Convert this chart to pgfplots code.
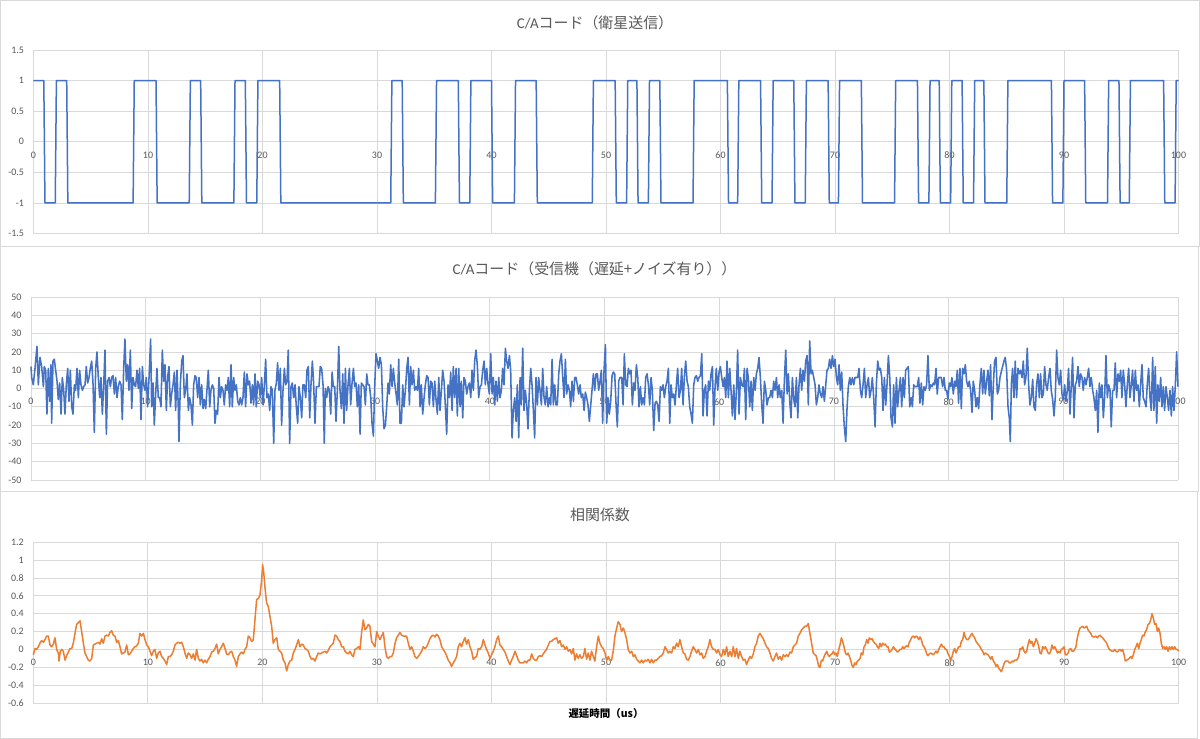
\documentclass[border=0pt]{standalone}
\usepackage{fontspec}
\setmainfont{Carlito}
\newfontfamily\jp{Noto Sans CJK JP}
\usepackage{pgfplots}
\pgfplotsset{compat=1.18}
\definecolor{gridc}{HTML}{D9D9D9}
\definecolor{txt}{HTML}{595959}
\definecolor{blu}{HTML}{4472C4}
\definecolor{ora}{HTML}{ED7D31}
\pgfplotsset{
  exc/.style={
    scale only axis,
    xmin=0, xmax=100,
    xtick={0,10,20,30,40,50,60,70,80,90,100},
    axis x line=middle,
    axis y line=left,
    axis line style={draw=none},
    hide obscured x ticks=false,
    major tick length=0pt,
    grid=major,
    major grid style={draw=gridc, line width=0.75bp},
    tick label style={font=\fontsize{10}{12}\selectfont, text=txt},
    xticklabel style={anchor=north, yshift=-6.5bp},
    yticklabel style={anchor=east, xshift=-6bp},
    /pgf/number format/assume math mode=true,
    clip=false,
  }
}
\begin{document}
\begin{tikzpicture}
\useasboundingbox (0,0) rectangle (1200bp,739bp);
\fill[white] (0,0) rectangle (1200bp,739bp);
\draw[gridc, line width=1bp] (0.5bp,738.5bp) rectangle (1199.5bp,492.5bp);
\draw[gridc, line width=1bp] (0.5bp,492.5bp) rectangle (1198.5bp,247.5bp);
\draw[gridc, line width=1bp] (0.5bp,247.5bp) rectangle (1197.5bp,0.5bp);

\node[text=txt, font=\fontsize{15}{18}\selectfont] at (595bp,716bp) {C/A{\jp コード（衛星送信）}};
\node[text=txt, font=\fontsize{15}{18}\selectfont] at (594.5bp,470bp) {C/A{\jp コード（受信機（遅延+ノイズ有り））}};
\node[text=txt, font=\fontsize{15}{18}\selectfont] at (600bp,224bp) {\jp 相関係数};
\node[text=black, font=\fontsize{10.5}{12}\selectfont] at (606bp,25bp) {\jp\bfseries 遅延時間（us）};

% Panel 1
\begin{axis}[exc, at={(33.5bp,505.5bp)}, anchor=south west, width=1145bp, height=183.5bp,
  ymin=-1.5, ymax=1.5, ytick={-1.5,-1,-0.5,0,0.5,1,1.5}]
\addplot[blu, line width=1.5bp, line join=round] coordinates {
(0,1) (0.9,1) (1.0,-1) (1.9,-1) (2.0,1) (2.9,1) (3.0,-1) (8.7,-1) (8.8,1) (10.7,1) (10.8,-1) (13.6,-1) (13.7,1) (14.6,1) (14.7,-1) (17.5,-1) (17.6,1) (18.5,1) (18.6,-1) (19.5,-1) (19.6,1) (21.5,1) (21.6,-1) (31.2,-1) (31.3,1) (32.2,1) (32.3,-1) (35.1,-1) (35.2,1) (37.1,1) (37.2,-1) (38.1,-1) (38.2,1) (40.0,1) (40.1,-1) (42.0,-1) (42.1,1) (43.9,1) (44.0,-1) (48.8,-1) (48.9,1) (50.8,1) (50.9,-1) (51.8,-1) (51.9,1) (52.7,1) (52.8,-1) (53.7,-1) (53.8,1) (54.7,1) (54.8,-1) (57.6,-1) (57.7,1) (60.6,1) (60.7,-1) (61.5,-1) (61.6,1) (63.5,1) (63.6,-1) (64.5,-1) (64.6,1) (66.4,1) (66.5,-1) (67.4,-1) (67.5,1) (69.4,1) (69.5,-1) (70.3,-1) (70.4,1) (72.3,1) (72.4,-1) (75.2,-1) (75.3,1) (77.2,1) (77.3,-1) (78.2,-1) (78.3,1) (79.1,1) (79.2,-1) (80.1,-1) (80.2,1) (81.1,1) (81.2,-1) (82.1,-1) (82.2,1) (83.0,1) (83.1,-1) (85.0,-1) (85.1,1) (88.9,1) (89.0,-1) (89.9,-1) (90.0,1) (91.8,1) (91.9,-1) (93.8,-1) (93.9,1) (94.8,1) (94.9,-1) (95.7,-1) (95.8,1) (98.7,1) (98.8,-1) (99.7,-1) (99.8,1) (100,1)
};
\end{axis}

% Panel 2
\begin{axis}[exc, at={(31bp,259bp)}, anchor=south west, width=1147bp, height=183bp,
  ymin=-50, ymax=50, ytick={-50,-40,-30,-20,-10,0,10,20,30,40,50}]
\addplot[blu, line width=1.55bp, line join=round] coordinates {
(0.00,12)(0.06,6)(0.20,2)(0.35,11)(0.52,23)(0.64,2)(0.78,17)(0.93,12)(1.08,1)(1.16,12)(1.28,10)(1.39,-14)(1.51,11)(1.63,-7)(1.74,13)(1.80,-19)(1.92,15)(2.03,16)(2.15,10)(2.27,4)(2.38,-6)(2.50,3)(2.62,-14)(2.73,6)(2.85,-1)(2.96,-14)(3.08,2)(3.20,11)(3.31,-7)(3.43,10)(3.55,-10)(3.66,-14)(3.78,2)(3.89,-1)(4.01,11)(4.13,-5)(4.24,10)(4.36,2)(4.48,-1)(4.59,1)(4.71,2)(4.82,12)(4.94,3)(5.06,6)(5.17,11)(5.29,15)(5.41,2)(5.52,-24)(5.64,11)(5.75,20)(5.87,6)(5.99,-5)(6.10,6)(6.22,-14)(6.34,2)(6.45,21)(6.57,-25)(6.68,4)(6.80,6)(6.92,1)(7.03,6)(7.15,7)(7.27,-3)(7.38,6)(7.50,-5)(7.61,1)(7.73,4)(7.85,2)(7.96,-17)(8.08,11)(8.19,27)(8.31,4)(8.43,13)(8.54,-1)(8.66,21)(8.78,-11)(8.89,6)(9.01,2)(9.12,1)(9.24,10)(9.36,0)(9.47,11)(9.59,-17)(9.71,12)(9.82,2)(9.94,-1)(10.05,6)(10.17,-10)(10.29,6)(10.43,27)(10.52,-10)(10.64,3)(10.75,-20)(10.87,-3)(10.98,11)(11.10,-5)(11.22,-5)(11.33,-10)(11.45,21)(11.57,4)(11.68,13)(11.80,-12)(11.91,6)(12.03,12)(12.15,-10)(12.26,-3)(12.38,2)(12.50,9)(12.61,-12)(12.73,10)(12.84,-10)(12.90,-29)(13.02,2)(13.14,15)(13.25,18)(13.37,-5)(13.48,-1)(13.60,8)(13.72,-12)(13.83,-5)(13.95,-9)(14.07,-20)(14.18,2)(14.30,7)(14.41,6)(14.53,-5)(14.65,6)(14.76,-9)(14.88,2)(15.00,-11)(15.11,-6)(15.23,-11)(15.34,-1)(15.46,10)(15.58,-10)(15.69,-1)(15.81,2)(15.93,0)(16.04,-19)(16.16,-12)(16.27,-14)(16.39,6)(16.51,-5)(16.62,1)(16.74,-1)(16.85,-9)(16.97,2)(17.09,-1)(17.20,6)(17.32,-10)(17.44,13)(17.55,-10)(17.67,6)(17.78,-1)(17.90,2)(18.02,-7)(18.13,-9)(18.25,-5)(18.37,-9)(18.48,-5)(18.60,9)(18.71,-10)(18.83,8)(18.95,2)(19.06,4)(19.18,-8)(19.30,2)(19.41,-9)(19.53,8)(19.64,-10)(19.76,4)(19.88,2)(19.99,-5)(20.11,6)(20.23,-9)(20.34,1)(20.46,16)(20.57,-5)(20.69,-3)(20.81,-12)(20.92,1)(21.04,-1)(21.16,-30)(21.27,-1)(21.39,3)(21.50,14)(21.62,-1)(21.74,11)(21.85,-20)(21.97,-1)(22.09,11)(22.20,2)(22.32,4)(22.43,21)(22.55,-30)(22.67,1)(22.78,3)(22.90,-5)(23.02,2)(23.13,-10)(23.25,-19)(23.36,1)(23.48,-5)(23.60,-16)(23.71,2)(23.83,2)(23.95,-5)(24.06,10)(24.18,12)(24.30,-16)(24.41,2)(24.53,15)(24.64,3)(24.76,-19)(24.88,1)(24.99,1)(25.11,1)(25.22,12)(25.34,11)(25.46,2)(25.57,-30)
(25.66,0)(25.78,-5)(25.90,1)(26.01,-1)(26.13,-14)(26.25,9)(26.36,1)(26.48,1)(26.59,-18)(26.71,-1)(26.83,23)(26.94,-1)(27.06,-11)(27.18,8)(27.29,-19)(27.41,11)(27.52,-12)(27.64,2)(27.76,11)(27.87,-9)(27.99,3)(28.11,11)(28.22,1)(28.34,3)(28.45,-10)(28.57,2)(28.69,-25)(28.80,3)(28.92,2)(29.04,1)(29.15,-9)(29.27,8)(29.38,2)(29.50,2)(29.62,-5)(29.73,-19)(29.85,-26)(29.97,2)(30.08,19)(30.20,15)(30.31,11)(30.43,17)(30.55,13)(30.66,-10)(30.78,-22)(30.90,-20)(31.01,-10)(31.13,3)(31.24,-3)(31.36,13)(31.48,1)(31.59,11)(31.71,3)(31.83,-3)(31.94,-9)(32.06,16)(32.17,-19)(32.29,-19)(32.41,2)(32.52,-10)(32.64,-1)(32.76,11)(32.87,17)(32.99,-9)(33.10,12)(33.22,2)(33.34,10)(33.45,-1)(33.57,1)(33.69,-1)(33.80,11)(33.92,-10)(34.03,2)(34.15,-14)(34.27,-5)(34.38,2)(34.50,7)(34.62,6)(34.73,-9)(34.85,4)(34.96,3)(35.08,-10)(35.20,4)(35.31,-6)(35.43,-14)(35.55,6)(35.66,-12)(35.78,-1)(35.89,10)(36.01,4)(36.13,-10)(36.24,-25)(36.36,2)(36.48,-5)(36.59,9)(36.71,-12)(36.82,12)(36.94,-5)(37.06,11)(37.17,-15)(37.29,11)(37.41,-10)(37.52,4)(37.64,-16)(37.75,6)(37.87,4)(37.99,-3)(38.10,1)(38.22,3)(38.34,-5)(38.45,10)(38.57,-1)(38.68,15)(38.80,21)(38.92,12)(39.03,-5)(39.15,1)(39.27,2)(39.38,10)(39.50,15)(39.61,2)(39.73,11)(39.85,2)(39.96,-3)(40.08,19)(40.20,-3)(40.31,6)(40.43,-9)(40.54,4)(40.66,-7)(40.78,6)(40.89,-5)(41.01,-1)(41.12,11)(41.24,2)(41.36,22)(41.47,15)(41.59,11)(41.71,18)(41.82,10)(41.94,-27)(42.05,-12)(42.17,-5)(42.29,-18)(42.40,2)(42.52,-27)(42.64,6)(42.75,-9)(42.87,22)(42.98,-12)(43.10,-1)(43.22,-9)(43.33,-22)(43.45,-1)(43.57,11)(43.68,2)(43.80,-12)(43.91,-27)(44.03,6)(44.15,-9)(44.26,6)(44.38,-1)(44.50,-9)(44.61,11)(44.73,-5)(44.84,-9)(44.96,1)(45.08,-10)(45.19,-5)(45.31,-9)(45.43,16)(45.54,-9)(45.66,2)(45.77,-9)(45.89,-9)(46.01,8)(46.12,15)(46.24,19)(46.36,6)(46.47,-5)(46.59,16)(46.70,-3)(46.82,2)(46.94,-1)(47.05,-10)(47.17,4)(47.29,-7)(47.40,6)(47.52,6)(47.63,2)(47.75,-3)(47.87,2)(47.98,-5)(48.10,-3)(48.22,-12)(48.33,-2)(48.45,-5)(48.56,-9)(48.68,-18)(48.80,-9)(48.91,-1)(49.03,8)(49.15,-1)(49.26,8)(49.38,8)(49.49,-1)(49.61,4)(49.73,10)(49.84,-19)(49.96,10)(50.08,24)(50.19,-19)(50.31,-5)(50.42,-14)(50.54,-7)(50.66,7)(50.77,9)(50.89,8)(51.01,-9)(51.12,-21)(51.24,4)(51.35,6)
(51.50,6)(51.62,-9)(51.73,19)(51.85,2)(51.97,1)(52.08,11)(52.20,8)(52.31,10)(52.43,-9)(52.55,3)(52.66,-1)(52.78,13)(52.90,6)(53.01,-10)(53.13,1)(53.24,-9)(53.36,-5)(53.48,-9)(53.59,6)(53.71,8)(53.83,2)(53.94,-9)(54.06,6)(54.17,-1)(54.29,-23)(54.41,-8)(54.52,-7)(54.64,-9)(54.76,-18)(54.87,1)(54.99,-1)(55.10,2)(55.22,-5)(55.34,1)(55.45,4)(55.57,11)(55.69,-19)(55.80,2)(55.92,-5)(56.03,-3)(56.15,-9)(56.27,2)(56.38,11)(56.50,-5)(56.62,-1)(56.73,11)(56.85,-9)(56.96,6)(57.08,15)(57.20,4)(57.31,1)(57.43,-10)(57.55,-14)(57.66,-19)(57.78,2)(57.89,6)(58.01,7)(58.13,4)(58.24,6)(58.36,7)(58.48,19)(58.59,-15)(58.71,-1)(58.82,2)(58.94,-15)(59.06,4)(59.17,-1)(59.29,8)(59.41,12)(59.52,-20)(59.64,1)(59.75,11)(59.87,-1)(59.99,9)(60.10,12)(60.22,6)(60.34,1)(60.45,6)(60.57,-5)(60.68,15)(60.80,-5)(60.92,11)(61.03,-1)(61.15,-15)(61.27,2)(61.38,-17)(61.50,-1)(61.61,21)(61.73,-14)(61.85,6)(61.96,2)(62.08,1)(62.20,11)(62.31,-17)(62.43,11)(62.54,6)(62.66,-10)(62.78,4)(62.89,-12)(63.01,6)(63.13,-1)(63.24,8)(63.36,11)(63.47,17)(63.59,6)(63.71,-9)(63.82,-19)(63.94,4)(64.06,-1)(64.17,-9)(64.29,-5)(64.40,-5)(64.52,-1)(64.64,-5)(64.75,4)(64.87,-1)(64.99,6)(65.10,-5)(65.22,2)(65.33,-5)(65.45,-1)(65.57,-19)(65.68,4)(65.80,21)(65.92,-3)(66.03,8)(66.15,-7)(66.26,-16)(66.38,6)(66.50,-6)(66.61,-10)(66.73,6)(66.85,-16)(66.96,2)(67.08,11)(67.19,-1)(67.31,10)(67.43,4)(67.54,15)(67.66,18)(67.77,-9)(67.89,26)(68.01,8)(68.12,10)(68.24,6)(68.36,2)(68.47,-9)(68.59,-5)(68.70,2)(68.82,-3)(68.94,-5)(69.05,1)(69.17,-7)(69.29,2)(69.40,10)(69.52,11)(69.63,16)(69.75,11)(69.87,18)(69.98,12)(70.10,16)(70.22,6)(70.33,2)(70.45,13)(70.56,-1)(70.68,9)(70.80,-10)(70.91,-21)(71.03,-29)(71.15,-10)(71.26,1)(71.38,6)(71.49,2)(71.61,6)(71.73,2)(71.84,6)(71.96,6)(72.08,6)(72.19,11)(72.31,-1)(72.42,-5)(72.54,2)(72.66,11)(72.77,-5)(72.89,2)(73.01,6)(73.12,-5)(73.24,-1)(73.35,6)(73.47,-5)(73.59,-21)(73.70,2)(73.82,15)(73.94,10)(74.05,11)(74.17,6)(74.28,-12)(74.40,6)(74.52,-9)(74.63,2)(74.75,18)(74.87,6)(74.98,-16)(75.10,-21)(75.21,2)(75.33,-19)(75.45,6)(75.56,-10)(75.68,-1)(75.80,6)(75.91,-10)(76.03,6)(76.14,-5)(76.26,10)(76.38,11)(76.49,12)(76.61,-10)(76.73,-5)(76.84,-10)(76.96,2)(77.07,1)
(77.27,1)(77.39,6)(77.50,-8)(77.62,3)(77.74,-9)(77.85,1)(77.97,-1)(78.08,2)(78.20,18)(78.32,-1)(78.43,2)(78.55,1)(78.67,3)(78.78,2)(78.90,11)(79.01,-3)(79.13,6)(79.25,6)(79.36,6)(79.48,1)(79.60,6)(79.71,-1)(79.83,-1)(79.94,-6)(80.06,3)(80.18,1)(80.29,6)(80.41,-3)(80.53,4)(80.64,1)(80.76,10)(80.87,-8)(80.99,11)(81.11,-11)(81.22,11)(81.34,8)(81.46,13)(81.57,4)(81.69,1)(81.80,4)(81.92,-1)(82.04,-13)(82.15,4)(82.27,-1)(82.39,-10)(82.50,-5)(82.62,-11)(82.73,2)(82.85,11)(82.97,-3)(83.08,10)(83.20,-3)(83.32,4)(83.43,10)(83.55,-4)(83.66,13)(83.78,-17)(83.90,2)(84.01,15)(84.13,17)(84.25,-3)(84.36,-1)(84.48,6)(84.59,9)(84.71,12)(84.83,15)(84.94,17)(85.06,10)(85.18,-10)(85.29,-16)(85.38,-29)(85.47,2)(85.58,11)(85.70,-5)(85.81,15)(85.93,-5)(86.05,11)(86.16,8)(86.28,10)(86.40,6)(86.51,15)(86.63,2)(86.74,6)(86.86,22)(86.98,2)(87.09,-9)(87.21,-5)(87.33,5)(87.44,-10)(87.56,-12)(87.67,2)(87.79,8)(87.91,-5)(88.02,8)(88.14,-5)(88.26,-3)(88.37,12)(88.49,2)(88.60,-1)(88.72,6)(88.84,11)(88.95,-1)(89.07,-6)(89.19,-15)(89.30,-5)(89.42,21)(89.53,6)(89.65,2)(89.77,10)(89.88,-3)(90.00,-6)(90.12,2)(90.23,-7)(90.35,-1)(90.46,11)(90.58,-14)(90.70,2)(90.81,17)(90.93,-16)(91.05,2)(91.16,4)(91.28,12)(91.39,1)(91.51,8)(91.63,6)(91.74,-1)(91.86,6)(91.98,2)(92.09,6)(92.21,11)(92.32,1)(92.44,6)(92.56,-1)(92.67,-5)(92.79,-12)(92.91,-1)(93.02,-24)(93.14,3)(93.25,-5)(93.37,2)(93.49,-16)(93.60,-5)(93.72,18)(93.84,-5)(93.95,2)(94.07,-1)(94.18,-21)(94.30,-1)(94.42,-1)(94.53,14)(94.65,-5)(94.77,8)(94.88,4)(95.00,10)(95.11,-5)(95.23,10)(95.35,2)(95.46,-10)(95.58,2)(95.70,11)(95.81,-5)(95.93,2)(96.04,10)(96.16,-7)(96.28,10)(96.39,-1)(96.51,2)(96.63,-10)(96.74,2)(96.86,13)(96.97,-5)(97.09,-7)(97.21,-10)(97.32,2)(97.44,11)(97.56,-5)(97.67,-12)(97.79,17)(97.90,-12)(98.02,12)(98.14,-19)(98.25,2)(98.37,-7)(98.49,6)(98.60,-10)(98.72,1)(98.83,-12)(98.95,1)(99.07,-5)(99.18,-12)(99.30,-1)(99.42,-15)(99.53,1)(99.65,-12)(99.77,2)(99.88,20)(100.00,1)
};
\end{axis}

% Panel 3
\begin{axis}[exc, at={(33.3bp,36bp)}, anchor=south west, width=1145.4bp, height=160.7bp,
  ymin=-0.6, ymax=1.2, ytick={-0.6,-0.4,-0.2,0,0.2,0.4,0.6,0.8,1,1.2}]
\addplot[ora, line width=1.5bp, line join=round] coordinates {
(0.00,-0.06)(0.15,0.01)(0.29,0.00)(0.44,0.03)(0.58,0.07)(0.73,0.10)(0.88,0.08)(1.02,0.11)(1.17,0.15)(1.31,0.15)(1.46,0.05)(1.60,0.03)(1.75,0.06)(1.89,0.13)(2.04,0.00)(2.19,-0.04)(2.24,-0.13)(2.36,-0.02)(2.48,0.00)(2.62,-0.02)(2.77,-0.12)(2.91,-0.07)(3.06,-0.03)(3.20,0.01)(3.35,0.01)(3.49,0.07)(3.64,0.18)(3.78,0.28)(3.93,0.30)(4.08,0.32)(4.22,0.20)(4.37,0.07)(4.51,-0.04)(4.66,-0.08)(4.80,-0.12)(4.95,-0.13)(5.10,-0.10)(5.24,0.05)(5.39,0.06)(5.53,0.07)(5.68,0.08)(5.82,0.06)(5.97,0.12)(6.11,0.07)(6.26,0.15)(6.40,0.16)(6.55,0.15)(6.70,0.19)(6.84,0.21)(6.99,0.16)(7.13,0.15)(7.28,0.08)(7.42,0.10)(7.57,0.03)(7.71,-0.05)(7.86,-0.04)(8.00,-0.03)(8.15,0.05)(8.30,-0.06)(8.44,-0.05)(8.59,-0.02)(8.73,0.01)(8.88,0.03)(9.02,0.04)(9.17,0.07)(9.31,0.18)(9.46,0.15)(9.61,0.18)(9.75,0.11)(9.90,0.05)(10.04,0.03)(10.19,-0.02)(10.33,-0.07)(10.48,-0.02)(10.62,0.00)(10.77,-0.10)(10.91,-0.04)(11.06,-0.02)(11.21,-0.08)(11.35,-0.10)(11.50,-0.13)(11.64,-0.17)(11.79,-0.08)(11.93,-0.08)(12.08,-0.06)(12.22,-0.02)(12.37,0.05)(12.52,0.07)(12.66,0.08)(12.81,0.07)(12.95,0.08)(13.10,0.03)(13.24,-0.04)(13.39,-0.10)(13.53,-0.04)(13.68,-0.06)(13.83,-0.10)(13.97,-0.05)(14.12,-0.12)(14.26,0.00)(14.41,-0.10)(14.55,-0.13)(14.70,-0.11)(14.84,-0.15)(14.99,-0.12)(15.13,-0.15)(15.28,-0.11)(15.43,-0.08)(15.57,-0.03)(15.72,-0.02)(15.86,0.01)(16.01,0.06)(16.15,-0.05)(16.30,0.00)(16.44,0.03)(16.59,0.07)(16.74,0.01)(16.88,-0.05)(17.03,-0.06)(17.17,-0.03)(17.32,-0.02)(17.46,-0.08)(17.61,-0.12)(17.75,-0.19)(17.90,-0.08)(18.04,-0.05)(18.19,-0.03)(18.34,-0.05)(18.48,0.00)(18.63,0.03)(18.77,0.15)(18.92,0.13)(19.06,0.09)(19.21,0.11)(19.35,0.33)(19.50,0.56)(19.65,0.57)(19.79,0.61)(19.94,0.78)(20.02,0.95)(20.11,0.87)(20.23,0.69)(20.37,0.52)(20.52,0.48)(20.66,0.37)(20.81,0.26)(20.95,0.07)(21.10,0.11)(21.25,0.13)(21.39,0.00)(21.54,-0.02)(21.68,-0.04)(21.83,-0.12)(21.97,-0.15)(22.12,-0.24)(22.26,-0.17)(22.41,-0.13)(22.56,-0.12)(22.70,-0.04)(22.85,0.00)(22.99,0.05)(23.14,0.11)(23.28,0.03)(23.43,0.06)(23.57,0.05)(23.72,0.01)(23.86,0.00)(24.01,-0.02)(24.16,-0.08)(24.30,-0.11)(24.45,-0.10)(24.59,-0.13)(24.74,-0.08)(24.88,-0.04)(25.03,-0.05)(25.17,-0.04)(25.32,-0.03)(25.47,-0.02)(25.61,-0.04)(25.76,-0.01)(25.90,0.03)(26.05,0.05)(26.19,0.07)(26.34,0.16)(26.48,0.15)(26.63,0.11)(26.77,0.09)(26.92,0.03)(27.07,0.03)(27.21,-0.02)(27.36,-0.04)(27.50,-0.05)(27.65,-0.02)(27.79,-0.06)(27.94,-0.08)(28.08,0.00)(28.23,0.01)(28.38,0.03)(28.52,0.00)(28.67,0.20)(28.81,0.33)(28.96,0.22)(29.10,0.24)(29.25,0.28)(29.39,0.26)(29.54,0.09)(29.68,0.06)(29.83,0.03)(29.98,0.20)(30.12,0.15)(30.27,0.11)(30.41,0.15)(30.56,0.19)(30.70,0.03)(30.85,-0.08)(30.99,-0.10)(31.14,-0.08)(31.29,-0.08)(31.43,-0.04)(31.58,0.07)(31.72,0.13)(31.87,0.16)(32.01,0.19)(32.16,0.16)(32.30,0.15)(32.45,0.15)(32.59,0.15)(32.74,0.07)(32.89,0.00)(33.03,0.03)(33.18,-0.02)(33.32,-0.08)(33.47,-0.10)(33.61,-0.08)(33.76,-0.05)(33.90,-0.02)(34.05,0.03)(34.20,0.01)
(34.34,0.03)(34.48,0.07)(34.63,0.12)(34.78,0.15)(34.92,0.16)(35.07,0.14)(35.21,0.17)(35.36,0.15)(35.50,0.11)(35.65,0.03)(35.79,0.00)(35.94,-0.03)(36.08,-0.07)(36.23,-0.12)(36.38,-0.15)(36.52,-0.19)(36.67,-0.15)(36.81,-0.12)(36.96,-0.08)(37.10,0.03)(37.25,0.07)(37.39,0.03)(37.54,0.09)(37.69,0.13)(37.83,0.06)(37.98,0.11)(38.12,0.03)(38.27,-0.02)(38.41,-0.11)(38.56,-0.09)(38.70,-0.08)(38.85,0.01)(38.99,0.00)(39.14,0.03)(39.29,0.11)(39.43,0.05)(39.58,0.00)(39.72,-0.04)(39.87,-0.10)(40.01,-0.06)(40.16,-0.02)(40.30,0.03)(40.45,0.11)(40.60,0.15)(40.74,0.05)(40.89,0.03)(41.03,0.00)(41.18,-0.03)(41.32,-0.08)(41.47,-0.13)(41.61,-0.17)(41.76,-0.12)(41.90,-0.08)(42.05,-0.02)(42.20,-0.07)(42.34,-0.12)(42.49,-0.15)(42.63,-0.15)(42.78,-0.15)(42.92,-0.13)(43.07,-0.15)(43.21,-0.12)(43.36,-0.12)(43.51,-0.05)(43.65,-0.10)(43.80,-0.12)(43.94,-0.12)(44.09,-0.08)(44.23,-0.07)(44.38,-0.08)(44.52,-0.05)(44.67,-0.02)(44.81,0.00)(44.96,0.05)(45.11,0.09)(45.25,0.09)(45.40,0.11)(45.54,0.12)(45.69,0.13)(45.83,0.07)(45.98,0.10)(46.12,0.03)(46.27,0.05)(46.42,0.00)(46.56,0.03)(46.71,-0.02)(46.85,0.00)(47.00,-0.05)(47.14,0.01)(47.29,-0.12)(47.43,-0.05)(47.58,-0.10)(47.72,-0.06)(47.87,-0.10)(48.02,-0.08)(48.16,0.01)(48.31,-0.11)(48.45,-0.04)(48.60,-0.12)(48.74,-0.02)(48.89,-0.08)(49.03,-0.13)(49.18,0.03)(49.33,0.15)(49.47,0.07)(49.62,0.03)(49.76,0.01)(49.91,-0.04)(50.05,-0.12)(50.20,-0.08)(50.34,-0.12)(50.49,-0.12)(50.63,-0.02)(50.78,0.15)(50.93,0.24)(51.07,0.31)(51.22,0.28)(51.36,0.20)(51.51,0.24)(51.65,0.19)(51.80,0.11)(51.94,0.00)(52.09,-0.04)(52.24,-0.02)(52.38,-0.08)(52.53,-0.06)(52.67,-0.11)(52.82,-0.13)(52.96,-0.15)(53.11,-0.12)(53.25,-0.15)(53.40,-0.12)(53.54,-0.13)(53.69,-0.11)(53.84,-0.15)(53.98,-0.11)(54.13,-0.15)(54.27,-0.12)(54.42,-0.12)(54.56,-0.10)(54.71,-0.08)(54.85,-0.07)(55.00,-0.04)(55.15,0.03)(55.29,0.00)(55.44,-0.04)(55.58,-0.02)(55.73,-0.04)(55.87,0.03)(56.02,0.01)(56.16,0.07)(56.31,0.03)(56.45,0.11)(56.60,0.03)(56.75,-0.04)(56.89,-0.05)(57.04,-0.11)(57.18,-0.12)(57.33,-0.08)(57.47,-0.02)(57.62,0.03)(57.76,0.00)(57.91,-0.04)(58.06,0.00)(58.20,-0.06)(58.35,-0.04)(58.49,-0.10)(58.64,-0.08)(58.78,-0.02)(58.93,0.03)(59.07,0.11)(59.22,0.03)(59.36,0.00)(59.51,0.00)(59.66,-0.04)(59.80,0.00)(59.95,-0.06)(60.09,-0.08)(60.24,0.00)(60.38,-0.06)(60.53,0.03)(60.67,-0.08)(60.82,-0.02)(60.97,-0.08)(61.11,0.03)(61.26,-0.08)(61.40,0.01)(61.55,-0.10)(61.69,-0.02)(61.84,-0.08)(61.98,-0.12)(62.13,-0.11)(62.27,-0.17)(62.42,-0.12)(62.57,-0.08)(62.71,-0.10)(62.86,-0.05)(63.00,0.03)(63.15,0.07)(63.29,0.15)(63.44,0.18)(63.58,0.15)(63.73,0.12)(63.88,0.07)(64.02,0.03)(64.17,0.01)(64.31,-0.04)(64.46,-0.10)(64.60,-0.13)(64.75,-0.08)(64.89,-0.04)(65.04,-0.11)(65.19,-0.08)(65.33,-0.12)(65.48,-0.06)(65.62,-0.08)(65.77,-0.06)(65.91,-0.08)(66.06,-0.03)(66.20,-0.04)(66.35,0.03)(66.49,0.05)(66.64,0.07)(66.79,0.15)(66.93,0.18)(67.08,0.22)(67.22,0.24)(67.37,0.26)(67.51,0.26)(67.66,0.29)(67.80,0.18)(67.95,0.07)(68.09,-0.04)(68.24,-0.06)
(68.34,-0.07)(68.45,-0.12)(68.57,-0.19)(68.69,-0.20)(68.80,-0.12)(68.92,-0.13)(69.04,-0.08)(69.15,-0.05)(69.27,-0.02)(69.38,-0.06)(69.50,-0.08)(69.62,-0.06)(69.73,-0.05)(69.85,-0.02)(69.97,-0.06)(70.08,-0.04)(70.20,-0.08)(70.32,0.00)(70.43,0.05)(70.55,0.13)(70.66,0.09)(70.78,0.03)(70.90,-0.04)(71.01,-0.06)(71.13,-0.04)(71.25,-0.08)(71.36,-0.12)(71.48,-0.18)(71.60,-0.20)(71.71,-0.15)(71.83,-0.17)(71.95,-0.13)(72.06,-0.12)(72.18,-0.10)(72.29,-0.04)(72.41,-0.06)(72.53,0.03)(72.64,0.05)(72.76,0.11)(72.88,0.07)(72.99,0.13)(73.11,0.11)(73.23,0.12)(73.34,0.09)(73.46,0.07)(73.57,0.06)(73.69,0.03)(73.81,0.01)(73.92,0.07)(74.04,0.03)(74.16,0.07)(74.27,0.05)(74.39,0.06)(74.51,0.03)(74.62,0.03)(74.74,-0.03)(74.86,-0.02)(74.97,0.00)(75.09,0.03)(75.20,0.01)(75.32,-0.01)(75.44,-0.03)(75.55,-0.02)(75.67,0.00)(75.79,0.00)(75.90,0.03)(76.02,0.01)(76.14,0.03)(76.25,0.04)(76.37,0.03)(76.48,0.08)(76.60,0.11)(76.72,0.14)(76.83,0.15)(76.95,0.13)(77.07,0.15)(77.18,0.14)(77.30,0.11)(77.42,0.14)(77.53,0.11)(77.65,0.05)(77.77,0.03)(77.88,0.00)(78.00,-0.05)(78.11,-0.07)(78.23,-0.05)(78.35,-0.04)(78.46,-0.05)(78.58,-0.06)(78.70,-0.04)(78.81,-0.02)(78.93,-0.04)(79.05,0.00)(79.16,0.03)(79.28,0.06)(79.39,0.03)(79.51,0.03)(79.63,0.00)(79.74,0.00)(79.86,-0.05)(79.98,-0.08)(80.09,-0.12)(80.21,-0.08)(80.33,-0.02)(80.44,0.01)(80.56,-0.04)(80.68,0.00)(80.79,0.03)(80.91,0.03)(81.02,0.09)(81.14,0.11)(81.26,0.19)(81.37,0.14)(81.49,0.11)(81.61,0.11)(81.72,0.13)(81.84,0.16)(81.96,0.18)(82.07,0.15)(82.19,0.13)(82.30,0.09)(82.42,0.07)(82.54,0.05)(82.65,0.03)(82.77,0.00)(82.89,-0.02)(83.00,-0.06)(83.12,-0.04)(83.24,-0.05)(83.35,-0.06)(83.47,-0.08)(83.59,-0.11)(83.70,-0.08)(83.82,-0.13)(83.93,-0.15)(84.05,-0.19)(84.17,-0.17)(84.28,-0.21)(84.40,-0.23)(84.52,-0.25)(84.63,-0.21)(84.75,-0.16)(84.87,-0.13)(84.98,-0.13)(85.10,-0.13)(85.21,-0.15)(85.33,-0.15)(85.45,-0.13)(85.56,-0.14)(85.68,-0.12)(85.80,-0.12)(85.91,-0.11)(86.03,-0.08)(86.15,0.01)(86.26,0.00)(86.38,0.03)(86.50,-0.02)(86.61,-0.04)(86.73,-0.02)(86.84,0.05)(86.96,0.11)(87.08,0.07)(87.19,0.09)(87.31,0.03)(87.43,0.07)(87.54,0.12)(87.66,0.09)(87.78,0.03)(87.89,-0.04)(88.01,-0.05)(88.12,0.03)(88.24,0.01)(88.36,0.03)(88.47,0.00)(88.59,-0.04)(88.71,-0.05)(88.82,-0.02)(88.94,0.05)(89.06,0.01)(89.17,0.03)(89.29,0.00)(89.41,-0.04)(89.52,-0.02)(89.64,-0.04)(89.75,0.00)(89.87,0.01)(89.99,0.03)(90.10,-0.06)(90.22,-0.06)(90.34,-0.04)(90.45,0.00)(90.57,0.01)(90.69,-0.02)(90.80,-0.02)(90.92,0.00)(91.03,0.03)(91.15,0.13)(91.27,0.20)(91.38,0.24)(91.50,0.25)(91.62,0.26)(91.73,0.24)(91.85,0.25)(91.97,0.26)(92.08,0.22)(92.20,0.20)(92.32,0.18)(92.43,0.15)(92.55,0.14)(92.66,0.14)(92.78,0.15)(92.90,0.13)(93.01,0.15)(93.13,0.16)(93.25,0.14)(93.36,0.13)(93.48,0.11)(93.60,0.09)(93.71,0.07)(93.83,0.03)(93.94,0.00)(94.06,-0.01)(94.18,-0.02)(94.29,-0.02)(94.41,0.00)(94.53,-0.02)(94.64,-0.03)(94.76,-0.01)(94.88,0.00)(94.99,-0.02)(95.11,0.00)(95.23,-0.06)(95.34,-0.13)(95.46,-0.12)(95.57,-0.11)(95.69,-0.10)(95.81,-0.08)(95.92,-0.10)(96.04,-0.06)(96.16,0.00)(96.27,0.03)(96.39,0.07)(96.51,0.01)(96.62,0.07)(96.74,0.11)(96.85,0.16)(96.97,0.15)(97.09,0.20)(97.20,0.22)(97.32,0.28)(97.44,0.29)(97.55,0.33)(97.67,0.40)(97.79,0.35)(97.90,0.28)(98.02,0.29)(98.14,0.20)(98.25,0.24)(98.37,0.18)(98.48,0.07)(98.60,0.01)(98.72,0.03)(98.83,0.00)(98.95,0.03)(99.07,-0.02)(99.18,0.03)(99.30,0.00)(99.42,0.03)(99.53,0.00)(99.65,0.03)(99.77,0.00)(99.88,0.00)(100.00,-0.02)
};
\end{axis}
\end{tikzpicture}
\end{document}
